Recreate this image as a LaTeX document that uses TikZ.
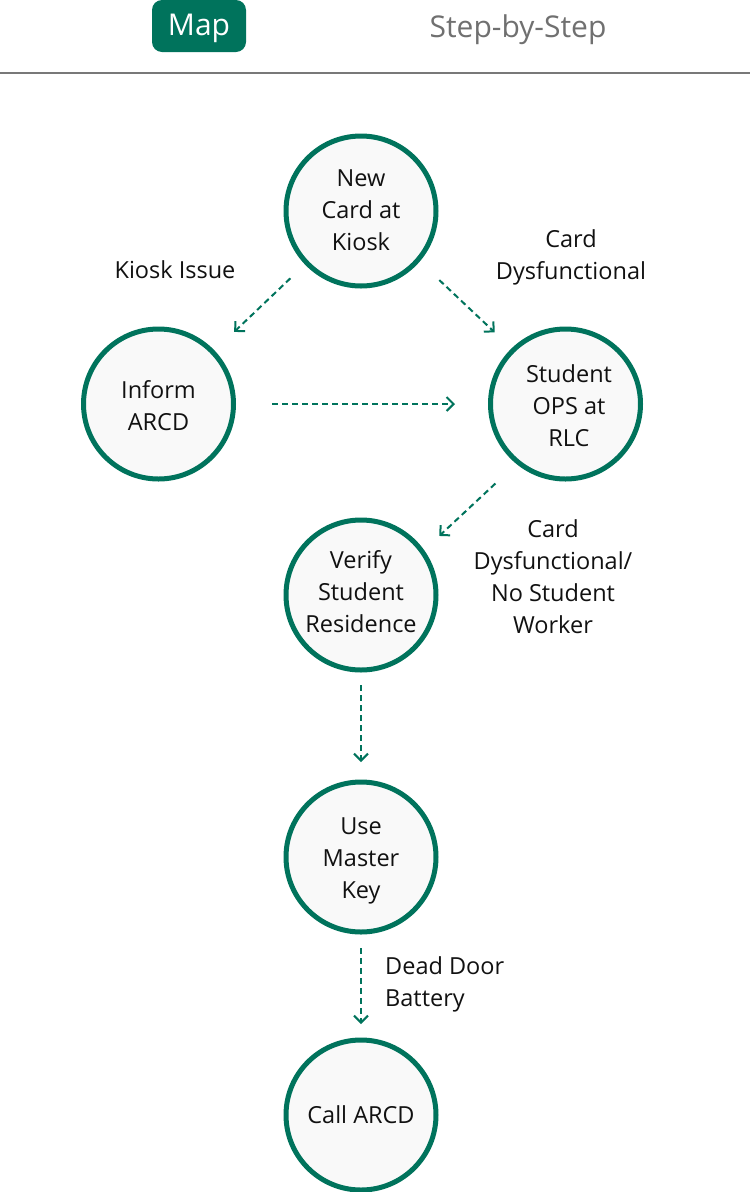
\documentclass[tikz,border=0pt]{standalone}
\usepackage{fontspec}
\setmainfont{Open Sans}
\usetikzlibrary{arrows.meta}
\definecolor{brand}{RGB}{0,115,92}
\definecolor{circfill}{RGB}{249,249,249}
\definecolor{txt}{RGB}{17,17,17}
\definecolor{graytxt}{RGB}{112,112,112}
\definecolor{rule}{RGB}{120,120,120}
\tikzset{
  stepnode/.style={circle, draw=brand, line width=5pt, fill=circfill, minimum size=150pt,
    inner sep=0pt, align=center, text=txt, font=\fontsize{23.5}{32}\selectfont},
  edgelabel/.style={align=center, text=txt, font=\fontsize{23.5}{32}\selectfont, inner sep=0pt},
  flow/.style={draw=brand, line width=2pt, dash pattern=on 6pt off 4pt,
    -{Straight Barb[length=7pt,width=14pt,line width=2pt]}},
}
\newcommand{\steptext}[3]{\raisebox{#2pt}[\height][\depth]{\hspace*{#1pt}\begin{tabular}{@{}c@{}}#3\end{tabular}}}
\begin{document}
\begin{tikzpicture}[x=1pt,y=-1pt]
\useasboundingbox (0,0) rectangle (750,1192);
% header
\node[fill=brand, rounded corners=10pt, minimum width=94pt, minimum height=52pt, inner sep=0pt,
  text=white, font=\fontsize{30}{36}\selectfont] (maptab) at (199,26) {\raisebox{-2pt}[\height][\depth]{Map}};
\node[text=graytxt, font=\fontsize{30}{36}\selectfont, inner sep=0pt] (steptab) at (518,30) {Step-by-Step};
\coordinate (ruleL) at (0,73);
\coordinate (ruleR) at (750,73);
\draw[rule, line width=1.5pt] (ruleL) -- (ruleR);
% nodes
\node[stepnode] (kiosk) at (361,211) {\steptext{0}{-1}{New\\Card at\\Kiosk}};
\node[stepnode] (inform) at (158.5,404) {\steptext{0}{-4}{Inform\\ARCD}};
\node[stepnode] (ops) at (565.5,404) {\steptext{7}{-4}{Student\\OPS at\\RLC}};
\node[stepnode] (verify) at (361,595) {\steptext{0}{1}{Verify\\Student\\Residence}};
\node[stepnode] (key) at (361,857) {\steptext{0}{-3}{Use\\Master\\Key}};
\node[stepnode] (call) at (361,1115) {Call ARCD};
% labels
\node[edgelabel] (lblkiosk) at (175,270) {Kiosk Issue};
\node[edgelabel] (lbldys) at (571,257) {Card\\Dysfunctional};
\node[edgelabel] (lbldys2) at (553,577) {Card\\Dysfunctional/\\No Student\\Worker};
\node[edgelabel, anchor=west, align=left] (lbldead) at (385,984) {Dead Door\\Battery};
% connectors
\draw[flow, shorten <=20pt, shorten >=27pt] (kiosk) -- (inform);
\draw[flow, shorten <=26pt, shorten >=24pt, transform canvas={shift={(3,-2)}}] (kiosk) -- (ops);
\draw[flow, shorten <=36pt, shorten >=33pt] (inform) -- (ops);
\draw[flow, shorten <=28pt, shorten >=20pt, transform canvas={shift={(7,7.5)}}] (ops) -- (verify);
\draw[flow, shorten <=12.5pt, shorten >=17.5pt] (verify) -- (key);
\draw[flow, shorten <=13.5pt, shorten >=13.5pt] (key) -- (call);
\end{tikzpicture}
\end{document}
